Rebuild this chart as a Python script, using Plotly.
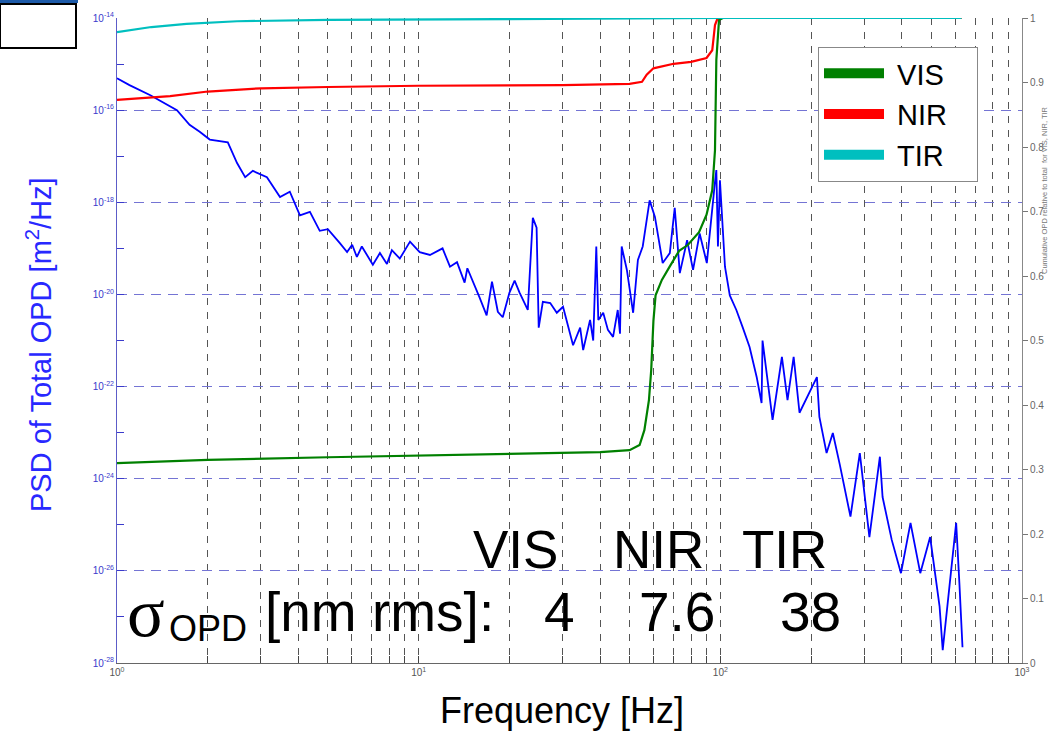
import plotly.graph_objects as go

# ---------------- data ----------------
psd_freq = [1.00, 1.10, 1.29, 1.42, 1.58, 1.74, 1.88, 2.03, 2.33, 2.50, 2.66, 2.82, 3.14, 3.47, 3.74,
            4.04, 4.36, 4.70, 5.00, 5.48, 5.79, 6.02, 6.24, 6.48, 7.05, 7.44, 7.85, 8.15, 8.66, 9.36,
            10.08, 10.9, 12.0, 12.7, 13.4, 14.2, 14.5, 15.9, 16.8, 17.5, 18.3, 19.0, 20.0, 20.8, 21.6,
            23.0, 23.9, 24.6, 25.0, 25.8, 27.3, 28.7, 30.1, 32.5, 34.3, 35.1, 37.0, 37.9, 38.8, 39.4,
            40.9, 42.4, 44.1, 45.7, 46.5, 47.1, 49.0, 51.4, 53.3, 55.3, 58.3, 60.7, 64.4, 68.0, 70.6,
            73.4, 77.6, 81.2, 85.4, 90.2, 93.7, 95.9, 97.0, 98.2, 99.7, 103.6, 107.5, 113, 118.7, 125,
            132, 137, 138, 149, 160, 167, 175, 183, 209, 213, 225, 236, 249, 270, 290,
            312, 338, 345, 370, 397, 427, 460, 496, 533, 546, 605, 620, 635]
psd_vals = [4.9e-16, 3.5e-16, 2.1e-16, 1.5e-16, 1.0e-16, 4.8e-17, 3.4e-17, 2.3e-17, 2.0e-17, 7.1e-18,
            3.5e-18, 4.8e-18, 3.5e-18, 1.3e-18, 1.7e-18, 5.2e-19, 6.2e-19, 2.4e-19, 2.6e-19, 1.3e-19,
            8.3e-20, 1.2e-19, 6.5e-20, 1.1e-19, 4.4e-20, 7.9e-20, 4.6e-20, 9.1e-20, 6.0e-20, 1.4e-19,
            8.3e-20, 7.2e-20, 1.0e-19, 4.0e-20, 5.0e-20, 1.8e-20, 3.7e-20, 8.7e-21, 3.5e-21, 1.9e-20,
            4.2e-21, 3.2e-21, 1.1e-20, 2.0e-20, 1.1e-20, 4.6e-21, 4.6e-19, 2.8e-19, 1.9e-21, 6.9e-21,
            6.5e-21, 4.0e-21, 5.4e-21, 7.9e-22, 1.9e-21, 6.2e-22, 2.8e-21, 1.0e-21, 1.1e-19, 2.8e-21,
            4.0e-21, 1.7e-21, 1.2e-21, 4.6e-21, 1.4e-21, 1.1e-19, 3.4e-20, 4.0e-21, 5.6e-20, 1.1e-19,
            1.1e-18, 4.8e-19, 4.8e-20, 7.9e-20, 7.6e-19, 2.9e-20, 1.5e-19, 3.4e-20, 2.1e-19, 4.8e-20,
            6.8e-19, 2.6e-18, 5.0e-18, 1.1e-19, 3.0e-18, 4.0e-20, 9.5e-21, 4.6e-21, 1.9e-21, 7.2e-22,
            1.6e-22, 4.4e-23, 1.0e-21, 1.9e-23, 4.4e-22, 5.1e-23, 4.4e-22, 2.7e-23, 1.6e-22, 2.2e-23,
            3.6e-24, 9.8e-24, 2.0e-24, 1.5e-25, 3.6e-24, 5.4e-26, 3.0e-24, 4.0e-25, 4.7e-26, 8.9e-27,
            1.1e-25, 8.9e-27, 5.4e-26, 1.7e-27, 1.9e-28, 1.1e-25, 5.5e-27, 2.2e-28]

vis_freq = [1, 2, 5, 10, 20, 40, 50, 54, 56, 58, 59, 60, 61, 64, 68, 73, 78, 85, 90, 94, 96, 97, 99, 102, 630]
vis_cum = [0.310, 0.315, 0.319, 0.322, 0.324, 0.327, 0.330, 0.338, 0.361, 0.408, 0.454, 0.530, 0.570,
           0.594, 0.615, 0.639, 0.648, 0.668, 0.695, 0.733, 0.795, 0.935, 0.997, 1.0, 1.0]

nir_freq = [1, 1.5, 2, 3, 5, 10, 30, 50, 55, 57, 60, 70, 80, 90, 94, 96, 98, 630]
nir_cum = [0.873, 0.879, 0.886, 0.891, 0.893, 0.895, 0.896, 0.898, 0.901, 0.912, 0.922, 0.929, 0.932,
           0.938, 0.950, 0.989, 1.0, 1.0]

tir_freq = [1, 1.3, 1.7, 2.5, 5, 20, 97, 100, 630]
tir_cum = [0.978, 0.986, 0.991, 0.995, 0.997, 0.998, 0.999, 1.0, 1.0]

band_names = ["VIS", "NIR", "TIR"]
band_colors = ["#008000", "#ff0000", "#00bfbf"]
sigma_values = ["4", "7.6", "38"]

y_major_exp = [-28, -26, -24, -22, -20, -18, -16, -14]
y_minor_exp = [-27, -25, -23, -21, -19, -17, -15]
x_major = [1, 10, 100, 1000]
x_minor = [m * d for d in (1, 10, 100) for m in range(2, 10)]
right_ticks = [i / 10 for i in range(11)]

# ---------------- geometry helpers (pixel -> paper) ----------------
W, H = 1049, 733
PL, PR, PT, PB = 117, 1022, 18, 663
def px(x):
    return (x - PL) / (PR - PL)
def py(y):
    return (PB - y) / (PB - PT)

fig = go.Figure()

fig.add_trace(go.Scatter(x=psd_freq, y=psd_vals, mode="lines",
                         line=dict(color="#0000ff", width=1.8), showlegend=False, yaxis="y"))
for name, fx, fy, col in zip(band_names, [vis_freq, nir_freq, tir_freq],
                             [vis_cum, nir_cum, tir_cum], band_colors):
    fig.add_trace(go.Scatter(x=fx, y=fy, mode="lines", line=dict(color=col, width=2.2),
                             showlegend=False, yaxis="y2"))
# legend entries (thick bars); non-breaking spaces widen the box like the reference
for name, col in zip(band_names, band_colors):
    fig.add_trace(go.Scatter(x=[None], y=[None], mode="lines", name="&nbsp;" + name + "&nbsp;" * 3,
                             line=dict(color=col, width=10), yaxis="y2"))

blue_tick = "#3a3acc"
fig.update_layout(
    width=W, height=H,
    margin=dict(l=PL, r=W - PR, t=PT, b=H - PB, autoexpand=False),
    paper_bgcolor="white", plot_bgcolor="white",
    font=dict(family="Liberation Sans, Arial, sans-serif"),
    xaxis=dict(type="log", range=[0, 3], automargin=False,
               tickvals=x_major, ticktext=["10<sup>0</sup>", "10<sup>1</sup>", "10<sup>2</sup>", "10<sup>3</sup>"],
               tickfont=dict(size=10, color="#555"),
               ticks="inside", ticklen=7, tickcolor="#444",
               showgrid=True, gridcolor="#555", griddash="7px,7px", gridwidth=1,
               showline=True, linecolor="#666", linewidth=1, mirror=False, zeroline=False,
               minor=dict(tickvals=x_minor, ticks="inside", ticklen=7, tickcolor="#444",
                          showgrid=True, gridcolor="#555", griddash="7px,7px", gridwidth=1)),
    yaxis=dict(type="log", range=[-28, -14], automargin=False,
               tickvals=[10.0 ** e for e in y_major_exp],
               ticktext=["10<sup>%d</sup>" % e for e in y_major_exp],
               tickfont=dict(size=10, color=blue_tick),
               ticks="inside", ticklen=7, tickcolor=blue_tick,
               showgrid=True, gridcolor="#7474d4", griddash="10px,7px", gridwidth=1,
               showline=True, linecolor="#5c5cc8", linewidth=1, zeroline=False,
               minor=dict(tickvals=[10.0 ** e for e in y_minor_exp], ticks="inside", ticklen=7,
                          tickcolor=blue_tick, showgrid=False)),
    yaxis2=dict(range=[0, 1], overlaying="y", side="right", anchor="x", automargin=False,
                tickvals=right_ticks, ticktext=[("%g" % v) for v in right_ticks],
                tickfont=dict(size=10, color="#666"),
                ticks="outside", ticklen=5, tickcolor="#777",
                showgrid=False, showline=True, linecolor="#888", linewidth=1, zeroline=False),
    legend=dict(x=px(818), y=py(47), xanchor="left", yanchor="top",
                bgcolor="white", bordercolor="#888", borderwidth=1,
                font=dict(size=29, color="black"), itemwidth=60, tracegroupgap=0),
)

ann = []
ann.append(dict(text="PSD of Total OPD [m<sup>2</sup>/Hz]", x=px(39), y=py(345), xref="paper", yref="paper",
                textangle=-90, showarrow=False, font=dict(size=29, color="#2828ff"),
                xanchor="center", yanchor="middle"))
ann.append(dict(text="Frequency [Hz]", x=px(562), y=py(710), xref="paper", yref="paper",
                showarrow=False, font=dict(size=36, color="black"), xanchor="center", yanchor="middle"))
ann.append(dict(text="Cumulative OPD relative to total  for VIS, NIR, TIR", x=px(1044), y=py(190),
                xref="paper", yref="paper", textangle=-90, showarrow=False,
                font=dict(size=7.5, color="#777"), xanchor="center", yanchor="middle", borderpad=0))
for name, cx in zip(band_names, [515, 658, 784]):
    ann.append(dict(text=name, x=px(cx), y=py(549), xref="paper", yref="paper", showarrow=False,
                    font=dict(size=53, color="black"), xanchor="center", yanchor="middle"))
ann.append(dict(text="σ", x=px(125), y=py(612), xref="paper", yref="paper", showarrow=False,
                font=dict(size=70, color="black", family="Liberation Serif, Times New Roman, serif"),
                xanchor="left", yanchor="middle"))
ann.append(dict(text="OPD", x=px(167), y=py(628), xref="paper", yref="paper", showarrow=False,
                font=dict(size=36, color="black"), xanchor="left", yanchor="middle"))
ann.append(dict(text="[nm rms]:", x=px(263), y=py(612), xref="paper", yref="paper", showarrow=False,
                font=dict(size=55, color="black"), xanchor="left", yanchor="middle"))
for val, cx in zip(sigma_values, [559, 677, 810]):
    ann.append(dict(text=val, x=px(cx), y=py(612), xref="paper", yref="paper", showarrow=False,
                    font=dict(size=55, color="black"), xanchor="center", yanchor="middle"))
fig.update_layout(annotations=ann)

# top-left box artefact
fig.add_shape(type="rect", xref="paper", yref="paper", x0=px(0), x1=px(76), y0=py(48), y1=py(4),
              line=dict(color="black", width=2), fillcolor="white")
fig.add_shape(type="rect", xref="paper", yref="paper", x0=px(0), x1=px(78), y0=py(3), y1=py(0),
              line=dict(width=0), fillcolor="#1d5aa8")

fig.write_html("out.html")
